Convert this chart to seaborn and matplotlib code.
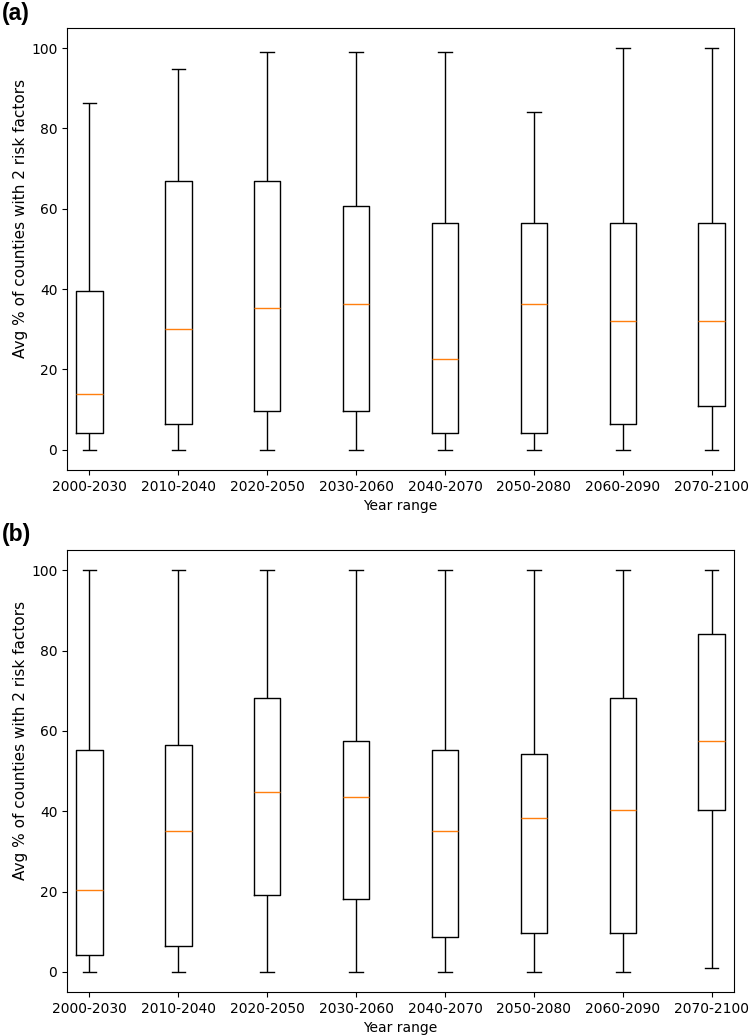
import matplotlib
matplotlib.use("Agg")
import matplotlib.pyplot as plt
import seaborn as sns
import pandas as pd

# Year ranges shared by both panels
year_ranges = ["2000-2030", "2010-2040", "2020-2050", "2030-2060",
               "2040-2070", "2050-2080", "2060-2090", "2070-2100"]

# Panel (a): five-number summaries
a_low = [0, 0, 0, 0, 0, 0, 0, 0]
a_q1 = [4.3, 6.5, 9.7, 9.7, 4.3, 4.3, 6.5, 10.8]
a_med = [14.0, 30.0, 35.3, 36.3, 22.5, 36.3, 32.0, 32.0]
a_q3 = [39.5, 67.0, 67.0, 60.7, 56.5, 56.5, 56.5, 56.5]
a_high = [86.2, 94.7, 99.0, 99.0, 99.0, 84.0, 100.0, 100.0]

# Panel (b)
b_low = [0, 0, 0, 0, 0, 0, 0, 1.1]
b_q1 = [4.3, 6.5, 19.2, 18.2, 8.6, 9.7, 9.7, 40.4]
b_med = [20.3, 35.2, 44.7, 43.6, 35.2, 38.3, 40.4, 57.5]
b_q3 = [55.3, 56.5, 68.2, 57.5, 55.3, 54.3, 68.2, 84.0]
b_high = [100.0, 100.0, 100.0, 100.0, 100.0, 100.0, 100.0, 100.0]


def summary_frame(low, q1, med, q3, high):
    # five points per range reproduce the quartiles exactly
    rows = []
    for i, yr in enumerate(year_ranges):
        for v in (low[i], q1[i], med[i], q3[i], high[i]):
            rows.append({"Year range": yr, "value": v})
    return pd.DataFrame(rows)


panels = [
    ("(a)", summary_frame(a_low, a_q1, a_med, a_q3, a_high), [0.0895, 0.546, 0.8905, 0.427], 0.003),
    ("(b)", summary_frame(b_low, b_q1, b_med, b_q3, b_high), [0.0895, 0.0415, 0.8905, 0.427], 0.004),
]

fig = plt.figure(figsize=(7.49, 10.35), dpi=100)

for label, df, rect, pad in panels:
    ax = fig.add_axes(rect)
    sns.boxplot(data=df, x="Year range", y="value", order=year_ranges,
                ax=ax, fill=False, color="black", linewidth=1, width=0.3,
                whis=(0, 100), fliersize=0,
                medianprops={"color": "#ff7f0e", "linewidth": 1})
    ax.set_xlim(-0.25, 7.25)
    ax.set_ylim(-5, 105)
    ax.set_yticks([0, 20, 40, 60, 80, 100])
    ax.set_xlabel("Year range", fontsize=10)
    ax.set_ylabel("Avg % of counties with 2 risk factors", fontsize=11)
    ax.yaxis.set_label_coords(-0.058, 0.57)
    ax.tick_params(labelsize=10)
    fig.text(0.003, rect[1] + rect[3] + pad, label, fontsize=16.5,
             fontweight="bold", family="Liberation Sans", va="bottom")

fig.savefig("out.png", dpi=100)
